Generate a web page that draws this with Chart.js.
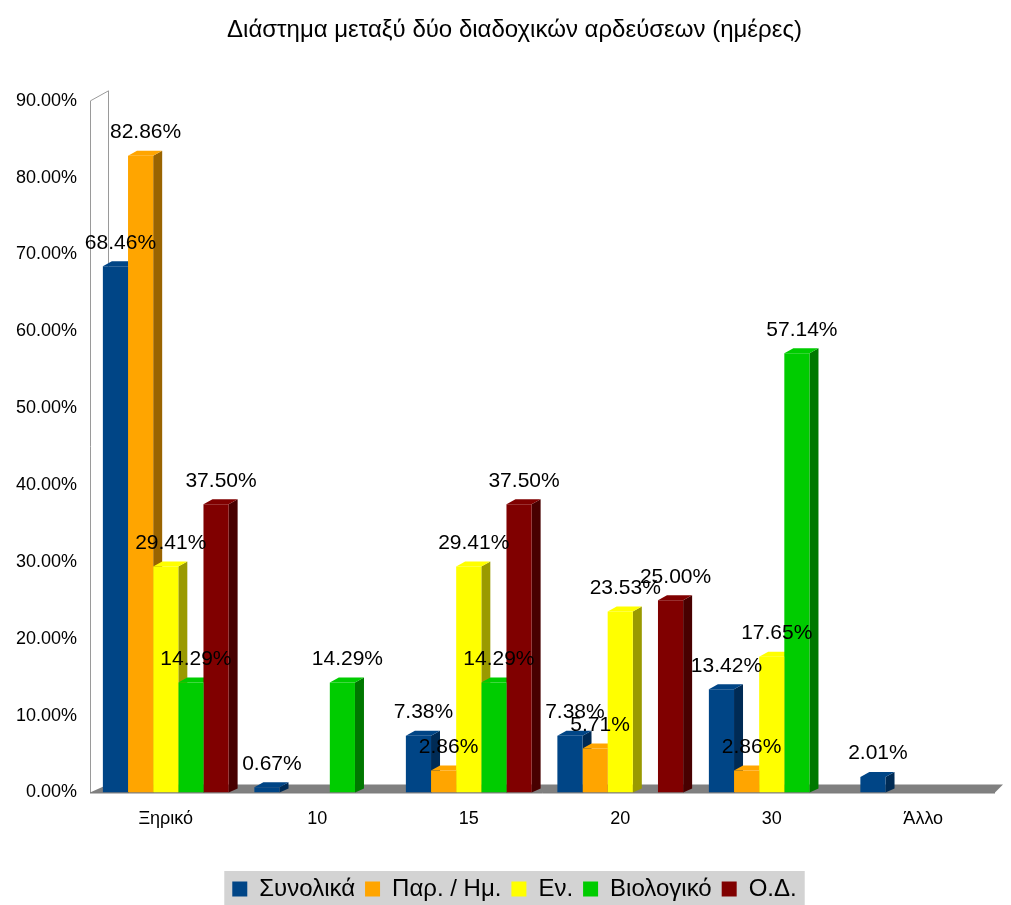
<!DOCTYPE html>
<html>
<head>
<meta charset="utf-8">
<script src="https://cdn.jsdelivr.net/npm/chart.js@4/dist/chart.umd.min.js"></script>
<style>
  body { margin: 0; background: #fff; }
  #wrap { width: 1011px; height: 905px; }
</style>
</head>
<body>
<div id="wrap"><canvas id="chart"></canvas></div>
<script>
const categories = ['Ξηρικό', '10', '15', '20', '30', 'Άλλο'];
const seriesNames = ['Συνολικά', 'Παρ. / Ημ.', 'Εν.', 'Βιολογικό', 'Ο.Δ.'];
const synolika = [68.46, 0.67, 7.38, 7.38, 13.42, 2.01];
const parIm = [82.86, 0, 2.86, 5.71, 2.86, 0];
const en = [29.41, 0, 29.41, 23.53, 17.65, 0];
const viologiko = [14.29, 14.29, 14.29, 0, 57.14, 0];
const od = [37.50, 0, 37.50, 25.00, 0, 0];

const frontColors = ['#004586', '#ffa500', '#ffff00', '#00cc00', '#800000'];
const sideColors = ['#002b55', '#9a6400', '#9a9a00', '#007800', '#480000'];

const seriesData = [synolika, parIm, en, viologiko, od];
const FONT = '"Liberation Sans", Arial, sans-serif';
const SHIFT = 15; // legend and title sit a little right of centre in the original

//==== 3D-ish decoration: wall, floor and bar side faces ====//
const depthPlugin = {
    id: 'depth',
    afterLayout(chart) {
        const lg = chart.legend;
        if (lg) { lg.left += SHIFT; lg.right += SHIFT; }
        const tb = chart.titleBlock;
        if (tb) { tb.left += SHIFT; tb.right += SHIFT; }
    },
    beforeDatasetsDraw(chart) {
        const ctx = chart.ctx;
        const area = chart.chartArea;
        const base = chart.scales.y.getPixelForValue(0);
        ctx.save();
        // back wall outline
        ctx.strokeStyle = '#9a9a9a';
        ctx.lineWidth = 1;
        ctx.beginPath();
        ctx.moveTo(area.left + 0.5, base);
        ctx.lineTo(area.left + 0.5, area.top);
        ctx.lineTo(area.left + 18.5, area.top - 10);
        ctx.lineTo(area.left + 18.5, base - 8);
        ctx.stroke();
        // floor
        ctx.fillStyle = '#808080';
        ctx.beginPath();
        ctx.moveTo(area.left, base);
        ctx.lineTo(area.left + 18, base - 8);
        ctx.lineTo(area.right + 4, base - 8);
        ctx.lineTo(area.right - 4, base);
        ctx.closePath();
        ctx.fill();
        ctx.strokeStyle = '#555';
        ctx.beginPath();
        ctx.moveTo(area.left, base + 0.5);
        ctx.lineTo(area.right - 4, base + 0.5);
        ctx.stroke();
        // side and top faces of bars
        chart.data.datasets.forEach((ds, i) => {
            chart.getDatasetMeta(i).data.forEach((bar, j) => {
                if (!ds.data[j]) return;
                const l = bar.x - bar.width / 2;
                const r = bar.x + bar.width / 2;
                ctx.fillStyle = sideColors[i];
                ctx.beginPath();
                ctx.moveTo(r, bar.y);
                ctx.lineTo(r + 9, bar.y - 5);
                ctx.lineTo(r + 9, bar.base - 4);
                ctx.lineTo(r, bar.base);
                ctx.closePath();
                ctx.fill();
                ctx.fillStyle = frontColors[i];
                ctx.beginPath();
                ctx.moveTo(l, bar.y);
                ctx.lineTo(l + 9, bar.y - 5);
                ctx.lineTo(r + 9, bar.y - 5);
                ctx.lineTo(r, bar.y);
                ctx.closePath();
                ctx.fill();
            });
        });
        ctx.restore();
    },
    afterDatasetsDraw(chart) {
        // value labels above bars
        const ctx = chart.ctx;
        ctx.save();
        ctx.font = '21px ' + FONT;
        ctx.fillStyle = '#000';
        ctx.textAlign = 'center';
        ctx.textBaseline = 'bottom';
        chart.data.datasets.forEach((ds, i) => {
            chart.getDatasetMeta(i).data.forEach((bar, j) => {
                const v = ds.data[j];
                if (!v) return;
                ctx.fillText(v.toFixed(2) + '%', bar.x + 5, bar.y - 13);
            });
        });
        ctx.restore();
    },
    beforeDraw(chart) {
        // grey background behind the legend items
        const boxes = chart.legend && chart.legend.legendHitBoxes;
        if (!boxes || !boxes.length) return;
        const left = Math.min(...boxes.map(b => b.left));
        const right = Math.max(...boxes.map(b => b.left + b.width));
        const top = Math.min(...boxes.map(b => b.top));
        const ctx = chart.ctx;
        ctx.save();
        ctx.fillStyle = '#d3d3d3';
        ctx.fillRect(left - 8, top - 6, right - left + 16, chart.height - top + 6);
        ctx.restore();
    }
};

new Chart(document.querySelector('#chart').getContext('2d'), {
    type: 'bar',
    data: {
        labels: categories,
        datasets: seriesNames.map((name, i) => ({
            label: name,
            data: seriesData[i],
            backgroundColor: frontColors[i],
            borderWidth: 0
        }))
    },
    options: {
        responsive: true,
        maintainAspectRatio: false,
        animation: false,
        layout: { padding: { left: 0, right: 12, top: 10, bottom: -6 } },
        datasets: { bar: { categoryPercentage: 0.83, barPercentage: 1 } },
        scales: {
            x: {
                afterFit: s => { s.height += 21; },
                grid: { display: false, drawTicks: false },
                border: { display: false },
                ticks: { color: '#000', padding: 16, font: { size: 18, family: FONT } }
            },
            y: {
                min: 0,
                max: 90,
                afterFit: s => { s.width = 90; },
                grid: { display: false, drawTicks: false },
                border: { display: false },
                ticks: {
                    stepSize: 10,
                    color: '#000',
                    padding: 13,
                    font: { size: 18, family: FONT },
                    callback: v => v.toFixed(2) + '%'
                }
            }
        },
        plugins: {
            title: {
                display: true,
                text: 'Διάστημα μεταξύ δύο διαδοχικών αρδεύσεων (ημέρες)',
                color: '#000',
                font: { size: 24, weight: 'normal', family: FONT },
                padding: { top: 6, bottom: 56 }
            },
            legend: {
                position: 'bottom',
                labels: {
                    color: '#000',
                    boxWidth: 15,
                    boxHeight: 15,
                    padding: 10,
                    font: { size: 24, family: FONT }
                }
            },
            tooltip: { enabled: false }
        }
    },
    plugins: [depthPlugin]
});
</script>
</body>
</html>
